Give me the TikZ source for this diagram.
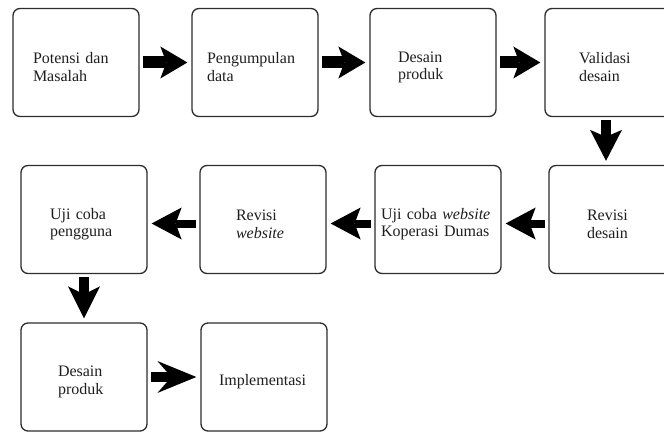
\documentclass[tikz,border=0pt]{standalone}
\usepackage{fontspec}
\setmainfont{Liberation Serif}
\usetikzlibrary{arrows.meta}
\definecolor{EdgeGray}{RGB}{45,45,45}
\definecolor{TextGray}{RGB}{30,30,30}

\begin{document}
\begin{tikzpicture}[x=1pt,y=1pt,
  stage/.style={draw=EdgeGray,line width=1.3pt,rounded corners=7pt,
    minimum width=126pt,minimum height=108pt,inner sep=0pt,
    align=left,text width=#1,text=TextGray,font=\fontsize{16}{17.5}\selectfont,
    execute at begin node={\rule{0pt}{20pt}}},
  flow/.style n args={3}{line width=#1,
    -{Stealth[length=#2,width=32pt,inset=#3,line width=0pt]},
    shorten <=3pt,shorten >=4pt}]
\useasboundingbox(0,0)rectangle(664,432);
\clip(0,0)rectangle(664,432);
% row 1
\node[stage=86pt](potensi)at(76,369.5){Potensi dan\\Masalah};
\node[stage=96pt](kumpul)at(255,369.5){Pengumpulan\\data};
\node[stage=70pt](desain1)at(433,369.5){Desain\\produk};
\node[stage=58pt](validasi)at(608,369.5){Validasi\\desain};
% row 2
\node[stage=50pt](revdesain)at(612,212.5){Revisi\\desain};
\node[stage=114pt](ujiweb)at(438,212.5){Uji coba \textit{website}\\Koperasi Dumas};
\node[stage=54pt](revweb)at(263,212.5){Revisi\\\textit{website}};
\node[stage=68pt](ujiuser)at(84,212.5){Uji coba\\pengguna};
% row 3
\node[stage=52pt](desain2)at(84,55){Desain\\produk};
\node[stage=90pt](impl)at(264,55){Implementasi};
% connectors
\draw[flow={12pt}{27pt}{6pt}](potensi)--(kumpul);
\draw[flow={12pt}{27pt}{6pt}](kumpul)--(desain1);
\draw[flow={12pt}{27pt}{6pt}](desain1)--(validasi);
\draw[flow={10pt}{31pt}{7pt}]([xshift=-2pt]validasi.south)--([xshift=-2pt]validasi.south|-revdesain.north);
\draw[flow={8pt}{30pt}{6pt}]([yshift=-4pt]revdesain.west)--([yshift=-4pt]ujiweb.east);
\draw[flow={8pt}{30pt}{6pt}]([yshift=-4pt]ujiweb.west)--([yshift=-4pt]revweb.east);
\draw[flow={8pt}{30pt}{6pt}]([yshift=-4pt]revweb.west)--([yshift=-4pt]ujiuser.east);
\draw[flow={10pt}{32pt}{8pt}](ujiuser.south)--(desain2.north);
\draw[flow={10pt}{39pt}{14pt}](desain2)--(impl);
\end{tikzpicture}
\end{document}
